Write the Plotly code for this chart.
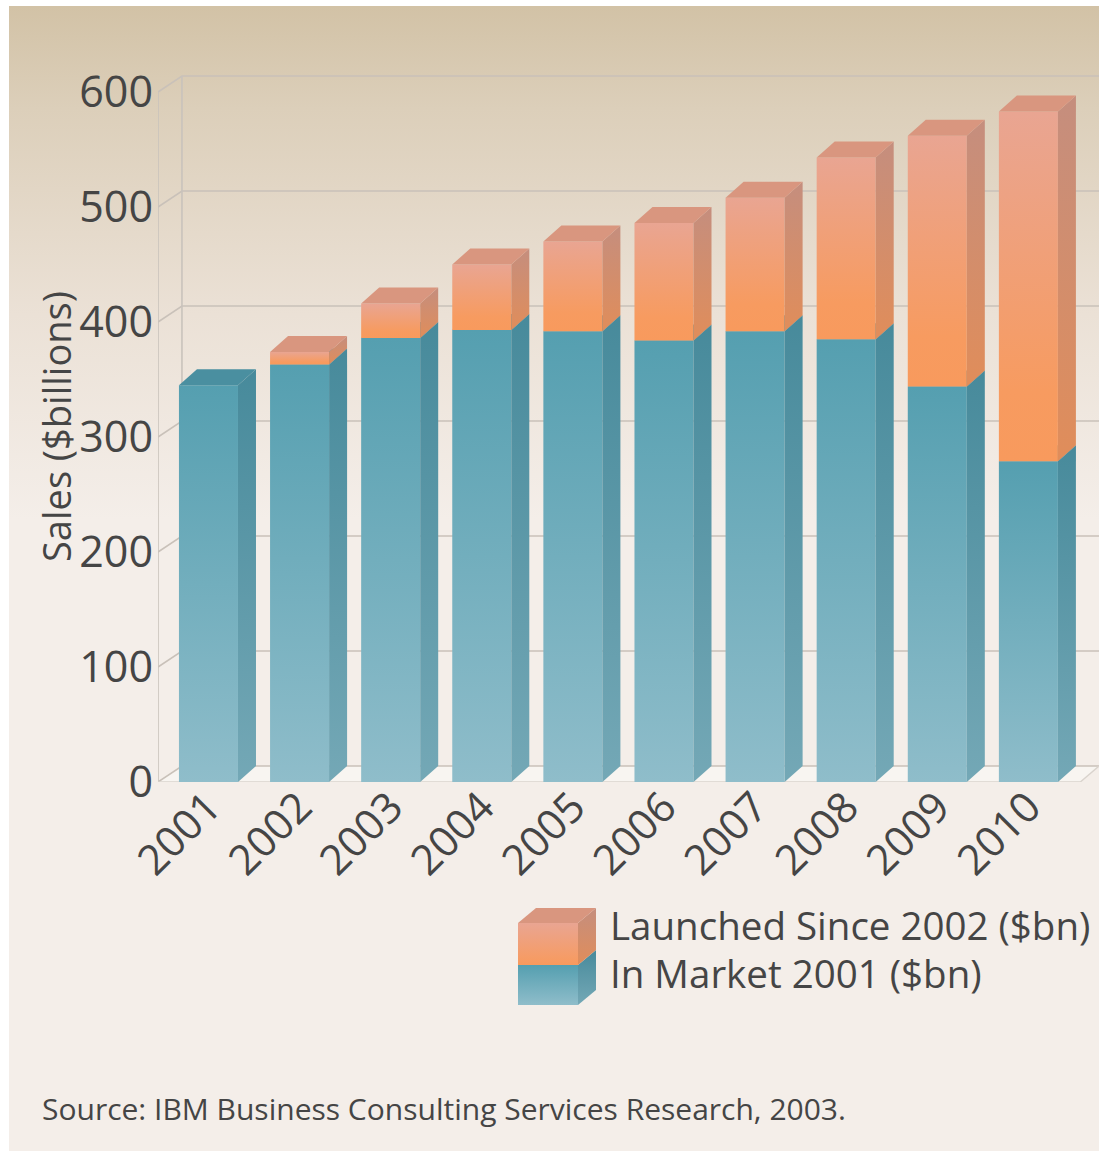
import plotly.graph_objects as go

# Sales data, $ billions
years = [2001, 2002, 2003, 2004, 2005, 2006, 2007, 2008, 2009, 2010]
in_market_2001 = [345, 363, 386, 393, 392, 384, 392, 385, 344, 279]
launched_since_2002 = [0, 11, 30, 57, 78, 102, 116, 158, 218, 304]
value_ticks = [0, 100, 200, 300, 400, 500, 600]

W, H = 1099, 1151
FONT = "Open Sans"
TEXT = "#454545"

# Oblique projection used for the box faces, in axis units
half_width = 0.324
depth_x = 0.1976
depth_y = 13.9
wall_x = 0.263
x_left = 2000.446
x_right = 2010.775
floor_right = 2010.57

TEAL_FRONT = [[0, "#8fbdca"], [1, "#559fb0"]]
TEAL_SIDE = [[0, "#74a8b6"], [1, "#478a9b"]]
TEAL_TOP = "#4a8fa0"
ORANGE_FRONT = [[0, "#f89a5d"], [0.2, "#f79b60"], [1, "#e9a592"]]
ORANGE_SIDE = [[0, "#e08d5a"], [1, "#c58e7e"]]
ORANGE_TOP = "#d9967f"


def poly(xs, ys, axes, scale=None, start=None, stop=None, color=None, name=None):
    """A closed filled polygon, flat or with a vertical gradient."""
    t = dict(
        x=xs + xs[:1], y=ys + ys[:1], xaxis=axes[0], yaxis=axes[1],
        mode="lines", line=dict(width=0), fill="toself",
        hoverinfo="skip", showlegend=False, name=name,
    )
    if scale is not None:
        t["fillgradient"] = dict(type="vertical", colorscale=scale, start=start, stop=stop)
    else:
        t["fillcolor"] = color
    return go.Scatter(**t)


fig = go.Figure()
PAGE = ("x", "y")
PLOT = ("x2", "y2")

# Panel behind the chart
fig.add_trace(poly([9, W, W, 9], [6, 6, H, H], PAGE, start=6, stop=520,
                   scale=[[0, "#d2c2a6"], [0.2, "#dccfba"], [0.6, "#ebe1d6"], [1, "#f4eee9"]]))

# Floor of the chart box
fig.add_trace(poly([x_left, x_left + wall_x, x_right, floor_right],
                   [0, depth_y, depth_y, 0], PLOT, color="#f8f5f1"))

# Gridlines running across the side wall and the back wall
gx, gy = [], []
for v in value_ticks:
    gx += [x_left, x_left + wall_x, x_right, None]
    gy += [v, v + depth_y, v + depth_y, None]
fig.add_trace(go.Scatter(x=gx, y=gy, xaxis="x2", yaxis="y2", mode="lines",
                         line=dict(color="#c9c1b9", width=1.6), hoverinfo="skip", showlegend=False))
fig.add_trace(go.Scatter(
    x=[x_left, x_left, None, x_left + wall_x, x_left + wall_x],
    y=[0, 600, None, depth_y, 600 + depth_y], xaxis="x2", yaxis="y2", mode="lines",
    line=dict(color="#c9c3bc", width=1.6), hoverinfo="skip", showlegend=False))
fig.add_trace(go.Scatter(
    x=[x_left, floor_right, x_right], y=[0, 0, depth_y], xaxis="x2", yaxis="y2", mode="lines",
    line=dict(color="#d9d3cd", width=1.4), hoverinfo="skip", showlegend=False))


def add_box(year, lo, hi, front, side, top_color, name):
    xl, xr = year - half_width, year + half_width
    fig.add_trace(poly([xl, xr, xr, xl], [lo, lo, hi, hi], PLOT, front, lo, hi, name=name))
    fig.add_trace(poly([xr, xr + depth_x, xr + depth_x, xr],
                       [lo, lo + depth_y, hi + depth_y, hi], PLOT, side, lo, hi + depth_y, name=name))
    fig.add_trace(poly([xl, xr, xr + depth_x, xl + depth_x],
                       [hi, hi, hi + depth_y, hi + depth_y], PLOT, color=top_color, name=name))


for yr, base, extra in zip(years, in_market_2001, launched_since_2002):
    add_box(yr, 0, base, TEAL_FRONT, TEAL_SIDE, TEAL_TOP, "In Market 2001 ($bn)")
    if extra:
        add_box(yr, base, base + extra, ORANGE_FRONT, ORANGE_SIDE, ORANGE_TOP, "Launched Since 2002 ($bn)")

# Legend swatch: a small two-tone box on the page axes, whose y runs downward
fig.add_trace(poly([518, 578, 578, 518], [1005, 1005, 965, 965], PAGE,
                   [[0, "#559fb0"], [1, "#8fbdca"]], 965, 1005))
fig.add_trace(poly([578, 596, 596, 578], [1005, 990, 950, 965], PAGE,
                   [[0, "#478a9b"], [1, "#74a8b6"]], 950, 1005))
fig.add_trace(poly([518, 578, 578, 518], [965, 965, 923, 923], PAGE,
                   [[0, "#e9a592"], [1, "#f89a5d"]], 923, 965))
fig.add_trace(poly([578, 596, 596, 578], [965, 950, 908, 923], PAGE,
                   [[0, "#c58e7e"], [1, "#e08d5a"]], 908, 965))
fig.add_trace(poly([518, 578, 596, 536], [923, 923, 908, 908], PAGE, color=ORANGE_TOP))

annotations = [
    dict(text="Sales ($billions)", x=56, y=427, textangle=-90, font=dict(size=38)),
    dict(text="Launched Since 2002 ($bn)", x=608, y=925, xanchor="left", font=dict(size=38.5)),
    dict(text="In Market 2001 ($bn)", x=608, y=973, xanchor="left", font=dict(size=38.5)),
    dict(text="Source: IBM Business Consulting Services Research, 2003.", x=40, y=1108,
         xanchor="left", font=dict(size=30)),
]
for a in annotations:
    a.update(xref="x", yref="y", showarrow=False)
    a["font"].update(family=FONT, color=TEXT)

# 1.15 px per $bn on the front plane; the axis runs past 600 so the back gridline at 600 stays drawn
y_top = 620
fig.update_layout(
    width=W, height=H, margin=dict(l=0, r=0, t=0, b=0, autoexpand=False),
    paper_bgcolor="white", plot_bgcolor="rgba(0,0,0,0)", showlegend=False,
    font=dict(family=FONT, color=TEXT),
    annotations=annotations,
    xaxis=dict(domain=[0, 1], range=[0, W], visible=False, fixedrange=True),
    yaxis=dict(domain=[0, 1], range=[H, 0], visible=False, fixedrange=True),
    xaxis2=dict(
        domain=[158 / W, 1], range=[x_left, x_right], anchor="y2",
        tickmode="array", tickvals=years, ticktext=[str(y) for y in years],
        tickangle=-45, tickfont=dict(size=42, family=FONT, color=TEXT),
        showgrid=False, zeroline=False, showline=False, ticks="",
        automargin=False, ticklabelstandoff=-9,
    ),
    yaxis2=dict(
        domain=[(H - 782) / H, (H - 782 + y_top * 1.15) / H], range=[0, y_top], anchor="x2",
        tickmode="array", tickvals=value_ticks,
        tickfont=dict(size=43, family=FONT, color=TEXT),
        showgrid=False, zeroline=False, showline=False, ticks="",
        automargin=False, ticklabelstandoff=4,
    ),
)
for tr in fig.data:
    tr.cliponaxis = False

fig.write_html("out.html")
